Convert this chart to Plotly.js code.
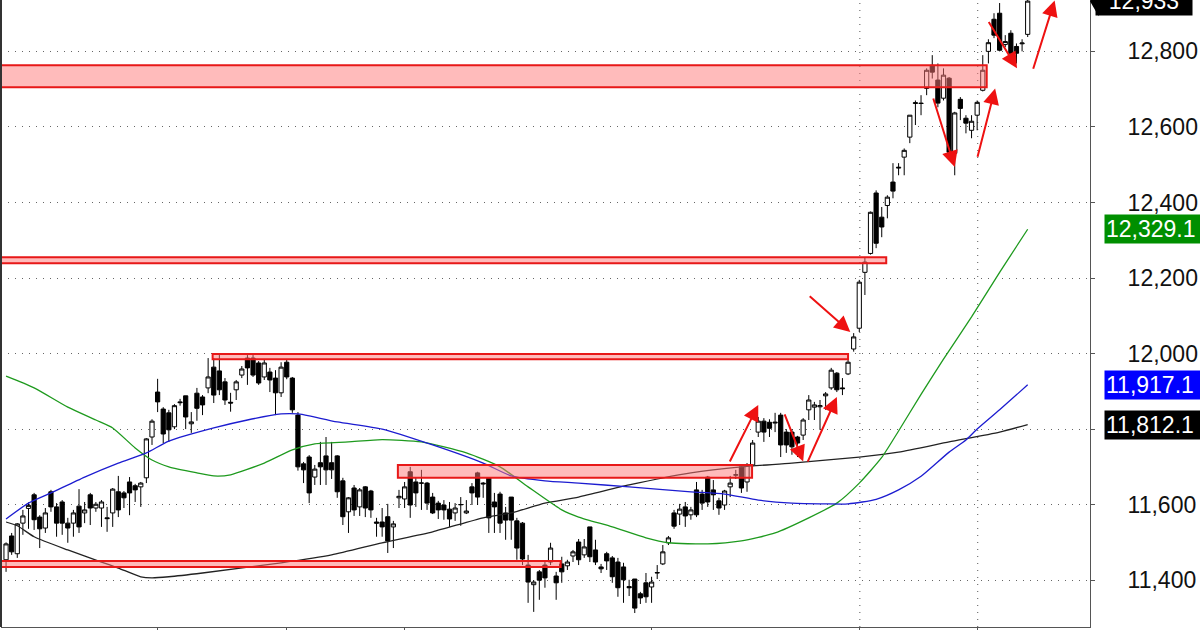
<!DOCTYPE html>
<html><head><meta charset="utf-8">
<script src="https://cdn.plot.ly/plotly-3.0.1.min.js"></script>
<style>html,body{margin:0;padding:0;background:#fff}#chart{width:1200px;height:630px}</style>
</head><body><div id="chart"></div>
<script>
// ---- candle data (daily sessions, oldest first) ----
const openP = [11454,11517,11470,11551,11590,11626,11567,11538,11634,11594,11607,11551,11551,11596,11578,11626,11591,11591,11565,11578,
11634,11631,11660,11650,11647,11671,11779,11898,11853,11843,11806,11872,11888,11814,11895,11885,11909,11964,11954,11925,
11871,11904,11943,11988,11988,11975,11938,11951,11935,11896,11977,11935,11837,11708,11726,11673,11711,11729,11711,11729,
11663,11581,11644,11594,11647,11636,11554,11554,11568,11541,11618,11615,11687,11660,11657,11657,11620,11604,11599,11588,
11578,11600,11578,11647,11684,11657,11671,11607,11628,11578,11620,11557,11551,11440,11388,11422,11440,11448,11411,11443,
11438,11464,11501,11467,11541,11480,11435,11470,11459,11448,11435,11383,11403,11364,11393,11382,11419,11443,11499,11578,
11575,11594,11573,11639,11628,11673,11639,11610,11599,11647,11678,11700,11660,11705,11792,11821,11818,11816,11837,11792,
11792,11779,11784,11851,11858,11859,11888,11909,11948,11909,11946,12012,12067,12215,12265,12425,12361,12392,12454,12491,
12520,12573,12662,12663,12702,12763,12724,12676,12729,12530,12673,12623,12591,12631,12697,12800,12885,12901,12818,12848,
12813,12820,12845];
const highP = [11500,11525,11551,11586,11606,11631,11572,11591,11639,11604,11612,11565,11586,11641,11607,11631,11607,11612,11594,11644,
11676,11636,11673,11655,11660,11776,11826,11933,11858,11851,11866,11880,11888,11845,11909,11890,11988,11988,11996,11935,
11896,11930,11967,11996,11996,11980,11983,11962,11956,11977,11985,11938,11845,11713,11731,11705,11766,11779,11766,11731,
11671,11620,11652,11644,11649,11639,11565,11591,11602,11557,11639,11660,11700,11673,11692,11660,11631,11610,11612,11607,
11604,11620,11612,11657,11687,11660,11673,11631,11634,11594,11620,11565,11554,11467,11400,11427,11448,11499,11422,11462,
11454,11480,11509,11509,11541,11507,11443,11475,11464,11459,11446,11401,11403,11369,11419,11409,11440,11493,11517,11586,
11602,11607,11594,11660,11639,11676,11665,11618,11639,11676,11692,11705,11710,11771,11832,11829,11826,11843,11843,11800,
11800,11782,11829,11890,11872,11877,11898,11962,11951,11935,11985,12054,12195,12255,12376,12432,12388,12419,12504,12504,
12543,12631,12670,12684,12755,12790,12768,12755,12732,12640,12679,12631,12631,12670,12790,12832,12901,12928,12843,12856,
12821,12832,12938];
const lowP = [11422,11467,11459,11520,11536,11533,11485,11525,11581,11515,11520,11499,11515,11525,11551,11546,11581,11541,11528,11541,
11567,11591,11572,11607,11594,11657,11758,11845,11763,11766,11800,11862,11800,11790,11822,11837,11895,11869,11890,11864,
11846,11877,11935,11917,11938,11917,11930,11898,11837,11885,11932,11843,11690,11657,11604,11652,11652,11652,11668,11618,
11546,11525,11570,11570,11567,11565,11515,11515,11472,11485,11591,11591,11565,11594,11586,11586,11575,11562,11560,11541,
11557,11544,11575,11599,11599,11618,11525,11525,11525,11507,11507,11454,11440,11340,11316,11348,11380,11440,11348,11393,
11427,11448,11440,11459,11448,11440,11419,11427,11393,11356,11340,11358,11313,11337,11340,11340,11403,11440,11493,11536,
11546,11541,11560,11567,11586,11594,11586,11573,11586,11620,11668,11631,11634,11700,11779,11766,11779,11792,11726,11737,
11732,11726,11771,11824,11824,11798,11851,11904,11898,11890,11943,12005,12057,12155,12262,12279,12308,12358,12411,12472,
12472,12557,12605,12631,12684,12728,12652,12670,12530,12472,12618,12583,12570,12591,12694,12768,12835,12800,12811,12795,
12768,12800,12838];
const closeP = [11496,11475,11549,11570,11598,11560,11536,11578,11594,11551,11551,11538,11578,11541,11586,11591,11601,11607,11563,11641,
11586,11618,11631,11639,11657,11774,11821,11872,11787,11798,11862,11870,11832,11819,11855,11864,11938,11890,11904,11877,
11869,11925,11959,11962,11943,11922,11975,11930,11896,11964,11938,11851,11700,11692,11631,11694,11700,11692,11692,11634,
11568,11618,11586,11639,11591,11586,11551,11541,11504,11549,11622,11647,11599,11631,11657,11604,11578,11586,11586,11562,
11591,11600,11583,11631,11620,11655,11565,11594,11551,11559,11559,11485,11456,11395,11395,11400,11406,11485,11393,11422,
11448,11475,11454,11488,11462,11448,11430,11451,11409,11380,11401,11380,11326,11353,11356,11395,11420,11475,11512,11543,
11588,11570,11586,11573,11604,11607,11626,11591,11636,11657,11679,11644,11705,11763,11821,11792,11802,11818,11758,11758,
11753,11763,11824,11877,11864,11862,11893,11956,11904,11907,11977,12044,12189,12242,12374,12292,12335,12414,12430,12493,
12538,12631,12664,12662,12750,12745,12663,12737,12533,12637,12649,12610,12615,12665,12750,12823,12843,12803,12826,12795,
12795,12822,12933];
const sessions = closeP.map((_, i) => i);

// ---- moving averages (read at sampled sessions) ----
const maBlueIdx = [0,4,8,14,20,25,29,37,43,49,52,54,59,67,76,85,90,96,102,111,122,128,134,140,146,150,155,159,163,168,171,173,177,182];
const maBlueVal = [11562,11604,11631,11673,11710,11737,11768,11803,11824,11840,11840,11835,11819,11800,11758,11710,11676,11663,11657,11647,11634,11628,11612,11604,11602,11602,11614,11639,11675,11739,11771,11800,11851,11917.1];
const maGreenIdx = [0,5,11,16,19,23,26,29,34,37,40,46,51,55,61,67,74,82,88,93,99,102,108,114,118,125,131,137,143,148,152,156,159,163,167,172,177,182];
const maGreenVal = [11940,11909,11858,11824,11803,11750,11718,11700,11684,11676,11679,11710,11745,11761,11766,11772,11766,11737,11700,11647,11586,11567,11541,11512,11499,11496,11504,11525,11565,11604,11657,11725,11795,11892,11985,12097,12215,12329.1];
const maBlackIdx = [0,2,5,11,17,20,24,26,29,35,49,58,67,76,85,90,96,102,111,122,131,140,152,159,168,177,182];
const maBlackVal = [11554,11544,11515,11480,11448,11432,11409,11406,11409,11419,11446,11467,11499,11528,11565,11578,11604,11620,11652,11684,11700,11710,11726,11739,11766,11792,11812.1];

// ---- support / resistance zones ----
const zoneStart = [-2, -2, 36.8, 69.8, -2];
const zoneEnd   = [174.7, 156.8, 150.0, 132.9, 98.8];
const zoneLow   = [12705, 12239, 11985, 11671, 11435];
const zoneHigh  = [12763, 12255, 11999, 11705, 11451];

// ---- annotation arrows (tail -> head) ----
const arrowTailX = [142.9,128.8,138.6,142.7,165.1,173.0,174.9,182.9];
const arrowTailY = [12155,11710,11843,11710,12679,12517,12882,12750];
const arrowHeadX = [150.4,134.0,142.0,148.0,169.0,176.2,180.1,186.8];
const arrowHeadY = [12057,11864,11714,11885,12494,12702,12755,12935];

// ---- axis ticks ----
const xTicks = [27, 50, 71, 115, 152.1, 173.1];
const xGridTicks = [152.1, 173.1];
const yTicks = [11400, 11600, 11800, 12000, 12200, 12400, 12600, 12800];
const yHiddenTick = 11800; // covered by the black MA label in the original
const yRange = [11276, 12936];

const FONT = '"Liberation Sans", Arial, sans-serif';

const traces = [
  {type:'candlestick', x: sessions, open: openP, high: highP, low: lowP, close: closeP,
   increasing:{fillcolor:'#ffffff', line:{color:'#000000', width:1}},
   decreasing:{fillcolor:'#000000', line:{color:'#000000', width:1}},
   whiskerwidth:0, hoverinfo:'skip', showlegend:false},
  {type:'scatter', mode:'lines', x: maBlackIdx, y: maBlackVal, line:{color:'#222222', width:1.3, shape:'spline', smoothing:0.6}, hoverinfo:'skip', showlegend:false},
  {type:'scatter', mode:'lines', x: maGreenIdx, y: maGreenVal, line:{color:'#1e9a1e', width:1.3, shape:'spline', smoothing:0.6}, hoverinfo:'skip', showlegend:false},
  {type:'scatter', mode:'lines', x: maBlueIdx, y: maBlueVal, line:{color:'#1c1cd0', width:1.3, shape:'spline', smoothing:0.6}, hoverinfo:'skip', showlegend:false}
];

const shapes = [];
xGridTicks.forEach(v => shapes.push({type:'line', xref:'x', yref:'paper', x0:v, x1:v, y0:0, y1:1,
  line:{color:'#555', width:1, dash:'1px,6px'}, layer:'below'}));
for (let i = 0; i < zoneStart.length; i++) {
  shapes.push({type:'rect', xref:'x', yref:'y', x0: zoneStart[i], x1: zoneEnd[i], y0: zoneLow[i], y1: zoneHigh[i],
    fillcolor:'rgba(255,120,120,0.5)', line:{color:'#e81818', width:2}, layer:'above'});
}
shapes.push({type:'line', xref:'paper', yref:'paper', x0:0, x1:0, y0:0, y1:1, line:{color:'#333', width:2}});

const fmt = v => v.toLocaleString('en-US', {maximumFractionDigits: 1, minimumFractionDigits: (v % 1 ? 1 : 0)});
const lastClose = closeP[closeP.length - 1];

const annotations = [];
for (let i = 0; i < arrowTailX.length; i++) {
  annotations.push({x: arrowHeadX[i], y: arrowHeadY[i], ax: arrowTailX[i], ay: arrowTailY[i],
    xref:'x', yref:'y', axref:'x', ayref:'y', text:'', showarrow:true,
    arrowhead:2, arrowsize:1.6, arrowwidth:2, arrowcolor:'#ee1111'});
}
const maLabels = [
  {v: maGreenVal[maGreenVal.length-1], bg:'#008f00'},
  {v: maBlueVal[maBlueVal.length-1], bg:'#0000ff'},
  {v: maBlackVal[maBlackVal.length-1], bg:'#000000'}
];
maLabels.forEach(m => annotations.push({xref:'paper', yref:'y', x:1, y:m.v, xanchor:'left', yanchor:'middle',
  xshift:14, text: fmt(m.v), showarrow:false, bgcolor:m.bg, borderpad:1, width:98, align:'left',
  font:{family:FONT, size:23, color:'#ffffff'}}));
annotations.push({xref:'paper', yref:'y', x:1, y:lastClose, xanchor:'left', yanchor:'middle',
  xshift:5, text: fmt(lastClose), showarrow:false, bgcolor:'#000000', borderpad:1, width:94, align:'center',
  font:{family:FONT, size:23, color:'#ffffff'}});
shapes.push({type:'path', xref:'paper', yref:'y',
  path:`M 1 ${lastClose} L 1.008 ${lastClose + 40} L 1.008 ${lastClose - 40} Z`, fillcolor:'#000', line:{width:0}});

const layout = {
  width:1200, height:630,
  margin:{l:1, r:110, t:0, b:3, pad:0},
  paper_bgcolor:'#ffffff', plot_bgcolor:'#ffffff',
  showlegend:false, hovermode:false,
  boxgap:0.25, boxgroupgap:0,
  xaxis:{range:[-0.9, 193.1], rangeslider:{visible:false}, showgrid:false, zeroline:false,
    tickvals:xTicks, ticktext:xTicks.map(()=>''), ticks:'outside', ticklen:4, tickcolor:'#555',
    showline:true, linecolor:'#555', linewidth:1, fixedrange:true},
  yaxis:{range:yRange, side:'right', tickvals:yTicks,
    ticktext:yTicks.map(v => v === yHiddenTick ? '' : v.toLocaleString('en-US')),
    showgrid:true, gridcolor:'#666', griddash:'1px,6px', gridwidth:1, zeroline:false,
    ticks:'outside', ticklen:4, tickcolor:'#555', showline:true, linecolor:'#555', linewidth:1,
    ticklabelstandoff:28, tickfont:{family:FONT, size:23, color:'#111'}, fixedrange:true},
  shapes: shapes,
  annotations: annotations
};

Plotly.newPlot('chart', traces, layout, {staticPlot:true, displayModeBar:false});
</script></body></html>
